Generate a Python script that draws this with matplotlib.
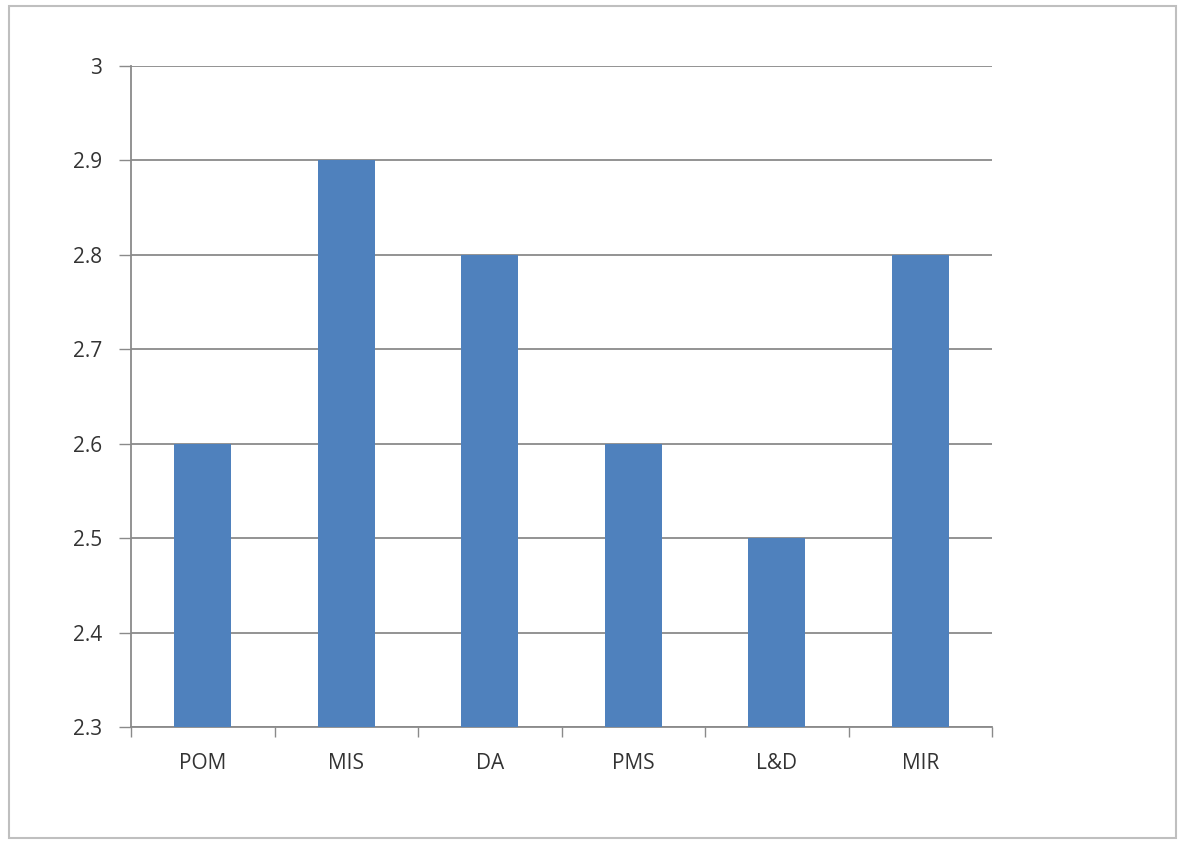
import matplotlib
matplotlib.use('Agg')
import matplotlib.pyplot as plt
from matplotlib.patches import Rectangle
import numpy as np

categories = ['POM', 'MIS', 'DA', 'PMS', 'L&D', 'MIR']
values = [2.6, 2.9, 2.8, 2.6, 2.5, 2.8]
y_ticks = [2.3, 2.4, 2.5, 2.6, 2.7, 2.8, 2.9, 3.0]
y_labels = ['2.3', '2.4', '2.5', '2.6', '2.7', '2.8', '2.9', '3']

plt.rcParams['font.family'] = ['Open Sans', 'DejaVu Sans']

fig = plt.figure(figsize=(11.81, 8.44), dpi=100)
fig.patches.append(Rectangle((9 / 1181, 6 / 844), 1167 / 1181, 832 / 844,
                             transform=fig.transFigure, fill=False,
                             edgecolor='#bfbfbf', linewidth=1.5))

ax = fig.add_axes([131 / 1181, 1 - 727 / 844, (992 - 131) / 1181, (727 - 66) / 844])

x = np.arange(len(categories))
ax.bar(x, values, width=0.4, color='#4f81bd', zorder=3)

ax.set_xlim(-0.5, len(categories) - 0.5)
ax.set_ylim(2.3, 3.0)
ax.set_yticks(y_ticks)
ax.set_yticklabels(y_labels)
ax.set_xticks(x)
ax.set_xticklabels(categories)
ax.set_xticks(np.arange(-0.5, len(categories), 1), minor=True)

ax.grid(axis='y', color='#8a8a8a', linewidth=1.3, zorder=0)
ax.tick_params(axis='x', which='major', length=0, pad=19, labelsize=15, labelcolor='#333333')
ax.tick_params(axis='x', which='minor', length=7, color='#8a8a8a', width=1)
ax.tick_params(axis='y', length=9, color='#8a8a8a', width=1, pad=12, labelsize=15, labelcolor='#333333')

for side in ['top', 'right']:
    ax.spines[side].set_visible(False)
for side in ['left', 'bottom']:
    ax.spines[side].set_color('#8a8a8a')
    ax.spines[side].set_linewidth(1.3)

fig.savefig('out.png', dpi=100)
